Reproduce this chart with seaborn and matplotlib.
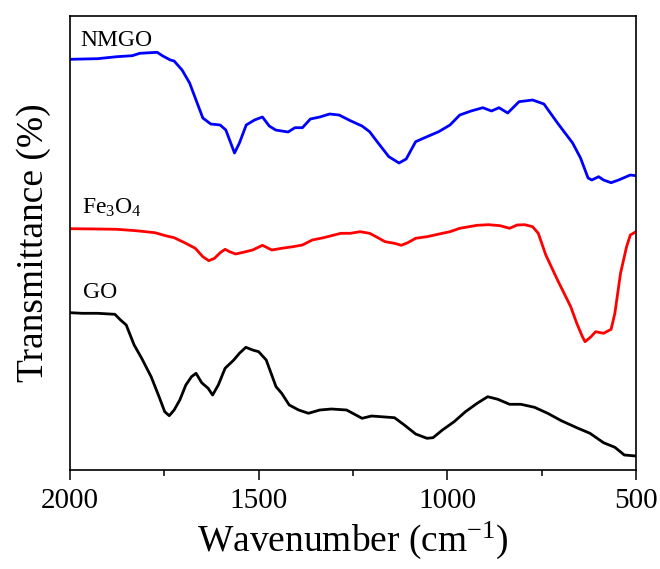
import matplotlib
matplotlib.use("Agg")
import matplotlib.pyplot as plt
import seaborn as sns
import pandas as pd
from matplotlib.ticker import MultipleLocator, NullLocator

# ---- data (wavenumber cm^-1, transmittance in arbitrary offset units) ----
nmgo_w = [2000, 1927, 1876, 1835, 1815, 1769, 1754, 1734, 1724, 1703, 1683, 1663, 1648, 1627,
          1602, 1587, 1577, 1564, 1551, 1533, 1511, 1490, 1472, 1455, 1439, 1422, 1404, 1384,
          1363, 1338, 1312, 1287, 1257, 1226, 1206, 1186, 1155, 1128, 1109, 1084, 1054, 1023,
          993, 967, 937, 906, 883, 863, 840, 810, 774, 744, 708, 668, 647, 627, 617, 599, 586,
          566, 546, 515, 500]
nmgo_t = [410.7, 411.3, 413.3, 414.3, 416.7, 417.7, 414, 410, 409, 400, 387, 367, 352, 346,
          345, 340, 330, 317, 327, 345, 350, 353, 344, 340, 339, 338, 342.3, 342.3,
          351, 353, 356, 355, 349.3, 344, 338.3, 328.3, 313.3, 307, 311, 328.3, 333.3, 338.3,
          345, 355, 359, 362.3, 359, 362.3, 357, 368.3, 370, 366, 347, 327, 312, 292, 290, 293.3, 290,
          287.3, 290, 295, 294.3]

fe3o4_w = [2000, 1927, 1876, 1825, 1775, 1744, 1724, 1693, 1668, 1648, 1632, 1617, 1602, 1589,
           1577, 1561, 1541, 1516, 1490, 1465, 1439, 1409, 1384, 1358, 1328, 1282, 1257, 1231,
           1206, 1186, 1165, 1140, 1122, 1105, 1084, 1054, 1013, 993, 967, 921, 891, 860, 835,
           815, 795, 774, 759, 739, 708, 673, 657, 642, 635, 620, 607, 586, 566, 556, 541, 525,
           515, 500]
fe3o4_t = [241.3, 241, 240.7, 239.3, 237.3, 234, 232.3, 226.7, 221.7, 213.3, 209.3, 211.7, 217.3, 220.7,
           218.3, 216, 217.7, 220, 224.7, 220, 221.7, 223.3, 225, 230, 232.3, 236.7, 236.7, 238.3,
           236.7, 232.7, 228.3, 226.7, 224.7, 227.3, 231.7, 233.3, 236.7, 238.3, 241.7, 244.7, 245.3, 244.3, 241.7,
           245, 245.3, 243.3, 236.7, 215, 190, 163.3, 146.7, 133.3, 128.3, 133, 138.3, 136.7, 140.7, 156.7, 196.7, 223.3,
           235, 238.3]

go_w = [2000, 1968, 1927, 1881, 1866, 1851, 1830, 1810, 1785, 1764, 1749, 1737, 1724, 1709,
        1693, 1678, 1666, 1651, 1634, 1622, 1607, 1589, 1566, 1551, 1534, 1516, 1500, 1480,
        1454, 1439, 1419, 1394, 1368, 1338, 1307, 1267, 1226, 1201, 1140, 1114, 1084, 1054,
        1038, 1013, 982, 952, 921, 893, 866, 835, 805, 769, 734, 698, 657, 622, 586, 556,
        531, 500]
go_t = [157.3, 156.7, 156.7, 155.7, 150, 145, 125, 111.7, 93.3, 73.3, 58.3, 54.3, 60, 70,
        85, 93.3, 96.7, 87.3, 81.7, 75, 85, 101.7, 110, 116.7, 122.7, 120, 118.3, 110,
        83.3, 76.7, 65, 60, 56.7, 60, 61, 60, 51.7, 54, 52.3, 45, 36, 31.7,
        32.3, 40, 48.3, 58.3, 66.7, 73.3, 70.7, 65.7, 65.7, 62.7, 56.7, 49.3, 42.3, 36.7, 27.3, 22.7,
        15, 14]

labels = ["NMGO", "Fe$_3$O$_4$", "GO"]
colors = ["#0000ff", "#ff0000", "#000000"]
x_ticks = [2000, 1500, 1000, 500]

# ---- style ----
sns.set_style("ticks")
plt.rcParams["font.family"] = ["Liberation Serif", "DejaVu Serif"]
plt.rcParams["mathtext.default"] = "regular"
plt.rcParams["mathtext.fontset"] = "custom"
plt.rcParams["mathtext.rm"] = "Liberation Serif"
plt.rcParams["text.color"] = "black"
plt.rcParams["axes.labelcolor"] = "black"
plt.rcParams["xtick.color"] = "black"
plt.rcParams["ytick.color"] = "black"

fig = plt.figure(figsize=(6.6, 5.69), dpi=100)
ax = fig.add_axes([70 / 660, 1 - 470 / 569, 566 / 660, 454 / 569])

df = pd.concat([
    pd.DataFrame({"w": nmgo_w, "t": nmgo_t, "s": labels[0]}),
    pd.DataFrame({"w": fe3o4_w, "t": fe3o4_t, "s": labels[1]}),
    pd.DataFrame({"w": go_w, "t": go_t, "s": labels[2]}),
])
sns.lineplot(data=df, x="w", y="t", hue="s", palette=dict(zip(labels, colors)),
             estimator=None, sort=False, linewidth=2.0, legend=False, ax=ax)

ax.set_xlim(2000, 500)
ax.set_ylim(0, 454)
ax.set_xticks(x_ticks)
ax.xaxis.set_minor_locator(MultipleLocator(250))
ax.yaxis.set_major_locator(NullLocator())
ax.tick_params(axis="x", which="major", direction="out", length=7, width=1.1,
               labelsize=21, pad=6, top=False, colors="black")
ax.tick_params(axis="x", which="minor", direction="out", length=4, width=1.1, top=False,
               colors="black")
for sp in ax.spines.values():
    sp.set_visible(True)
    sp.set_linewidth(1.2)
    sp.set_color("black")

ax.set_xlabel("Wavenumber (cm$^{-1}$)", fontsize=27, labelpad=4, color="black")
ax.set_ylabel("Transmittance (%)", fontsize=27, labelpad=14, color="black")

ax.text(1973, 424, labels[0], fontsize=17, va="baseline", ha="left", color="black")
ax.text(1968, 256.7, labels[1], fontsize=17, va="baseline", ha="left", color="black")
ax.text(1965, 171.7, labels[2], fontsize=17, va="baseline", ha="left", color="black")

fig.savefig("out.png", dpi=100)
